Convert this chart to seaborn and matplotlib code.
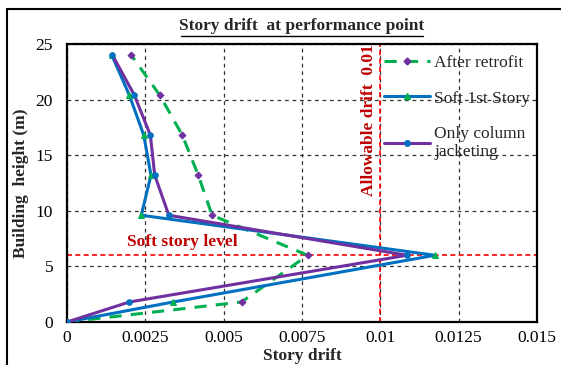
import matplotlib
matplotlib.use("Agg")
import matplotlib.pyplot as plt
from matplotlib.lines import Line2D
from matplotlib.patches import Rectangle
import seaborn as sns
import pandas as pd

# ---- data ----
heights = [0, 1.8, 6, 9.6, 13.2, 16.8, 20.4, 24]
after_retrofit = [0, 0.00557, 0.00768, 0.00463, 0.00419, 0.00368, 0.00296, 0.00205]
soft_1st_story = [0, 0.00339, 0.01174, 0.00237, 0.00268, 0.00245, 0.00199, 0.00143]
only_jacketing = [0, 0.00199, 0.01085, 0.00325, 0.00280, 0.00266, 0.00215, 0.00145]
series_names = ["After retrofit", "Soft 1st Story", "Only column\njacketing"]
x_ticks = [0, 0.0025, 0.005, 0.0075, 0.01, 0.0125, 0.015]
x_tick_labels = ["0", "0.0025", "0.005", "0.0075", "0.01", "0.0125", "0.015"]
y_ticks = [0, 5, 10, 15, 20, 25]
allowable_drift = 0.01
soft_story_level = 6

sns.set_theme(style="white")
plt.rcParams['font.family'] = ['Liberation Serif', 'DejaVu Serif']

fig = plt.figure(figsize=(5.61, 3.65), dpi=100)
ax = fig.add_axes([67/561, 1-322/365, (537-67)/561, (322-44)/365])

# outer frame
fig.patches.append(Rectangle((7/561, -0.1), 2.0, (365-9)/365 + 0.1, transform=fig.transFigure,
                             fill=False, edgecolor="black", linewidth=1.5))

styles = [
    dict(color="#00B050", ls=(0, (4, 3)), marker="D", mfc="#7030A0", mec="#7030A0", ms=3.5),
    dict(color="#0070C0", ls="-", marker="^", mfc="#00B050", mec="#00B050", ms=5),
    dict(color="#7030A0", ls="-", marker="o", mfc="#0070C0", mec="#0070C0", ms=4),
]
data = [after_retrofit, soft_1st_story, only_jacketing]

# gridlines
ax.grid(True, color="#333333", linestyle=(0, (3, 3)), linewidth=0.9)
ax.set_axisbelow(True)

# reference lines
ax.axvline(allowable_drift, color="#FF0000", linestyle=(0, (3, 2)), linewidth=1.2, zorder=1.5)
ax.axhline(soft_story_level, color="#FF0000", linestyle=(0, (3, 2)), linewidth=1.2, zorder=1.5)

handles = []
for name, vals, st in zip(series_names, data, styles):
    df = pd.DataFrame({"drift": vals, "height": heights})
    sns.lineplot(data=df, x="drift", y="height", sort=False, estimator=None, ax=ax,
                 color=st["color"], linestyle=st["ls"], linewidth=2.2,
                 marker=st["marker"], markerfacecolor=st["mfc"], markeredgecolor=st["mec"],
                 markersize=st["ms"], zorder=3)
    handles.append(Line2D([0], [0], color=st["color"], linestyle=st["ls"], linewidth=2.2,
                          marker=st["marker"], markerfacecolor=st["mfc"], markeredgecolor=st["mec"],
                          markersize=st["ms"]))

ax.set_xlim(0, 0.015)
ax.set_ylim(0, 25)
ax.set_xticks(x_ticks)
ax.set_xticklabels(x_tick_labels)
ax.set_yticks(y_ticks)
ax.tick_params(axis="both", length=0, labelsize=12.5, colors="black")
ax.tick_params(axis="y", pad=10)
ax.tick_params(axis="x", pad=6)
for s in ax.spines.values():
    s.set_color("black")
    s.set_linewidth(1.6)

ax.set_xlabel("Story drift", fontsize=12.5, fontweight="bold", labelpad=1)
ax.set_ylabel("Building  height (m)", fontsize=12.5, fontweight="bold", labelpad=5)

# title with underline
fig.text(302/561, 1-26/365, "Story drift  at performance point", ha="center", va="center",
         fontsize=12.5, fontweight="bold")
fig.add_artist(Line2D([181/561, 423/561], [1-36/365, 1-36/365], color="black", linewidth=1.0,
                      transform=fig.transFigure))

ax.text(0.00965, 25.0, "Allowable drift  0.01", rotation=90, ha="center", va="top",
        color="#C00000", fontsize=12.5, fontweight="bold")
ax.text(0.0019, 6.5, "Soft story level", ha="left", va="bottom",
        color="#C00000", fontsize=12.5, fontweight="bold")

leg = ax.legend(handles, series_names, loc="upper left", bbox_to_anchor=(0.66, 0.985),
                frameon=False, fontsize=12.5, handlelength=2.65, handletextpad=0.25,
                labelspacing=1.1, borderaxespad=0)

fig.savefig("out.png", dpi=100)
